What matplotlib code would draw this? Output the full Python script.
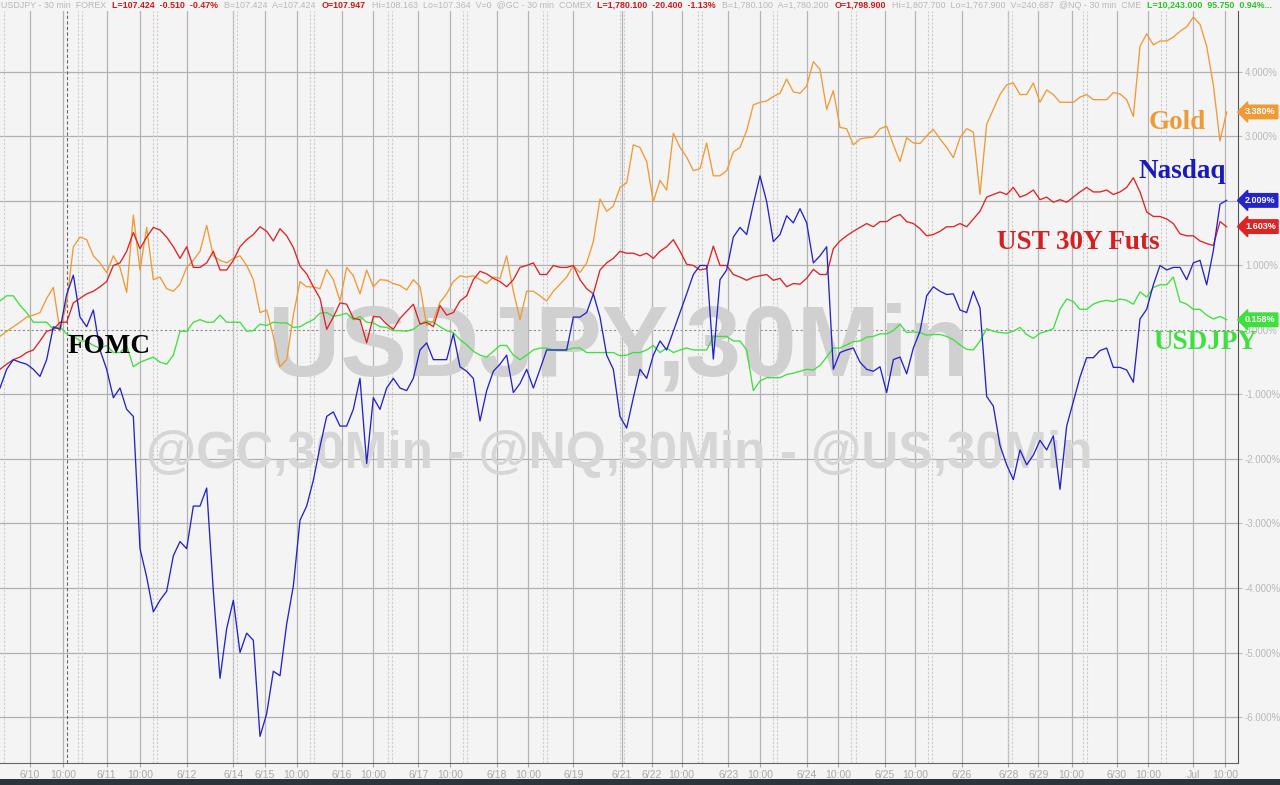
import numpy as np
import matplotlib
matplotlib.use('Agg')
import matplotlib.pyplot as plt
from matplotlib.patches import Rectangle

# % change since start, one point every 4 bars (30 min bars -> 2 hours)
gold = [-0.10, -0.02, 0.05, 0.12, 0.20, 0.23, 0.27, 0.49, 0.66, -0.02, 0.42, 1.29, 1.44, 1.40, 1.15, 1.04, 0.89, 1.15, 0.97, 0.58,
        1.78, 0.93, 1.59, 0.78, 0.82, 0.64, 0.60, 0.71, 0.97, 1.08, 1.22, 1.62, 1.15, 1.08, 1.04, 1.11, 1.15, 1.00,
        0.78, 0.27, 0.31, -0.10, -0.57, -0.46, 0.23, 0.75, 0.67, 0.67, 0.64, 0.94, 0.78, 0.45, 0.97, 0.84, 0.56, 0.93, 0.67, 0.78,
        0.77, 0.72, 0.69, 0.62, 0.78, 0.67, 0.07, 0.14, 0.43, 0.56, 0.75, 0.84, 0.82, 0.84, 0.78, 0.72, 0.82,
        0.80, 1.15, 0.60, 0.16, 0.60, 0.60, 0.53, 0.45, 0.60, 0.71, 0.82, 1.00, 0.89, 1.04, 1.37, 2.03, 1.84, 1.92, 2.21, 2.28,
        2.87, 2.83, 2.61, 1.99, 2.32, 2.17, 3.05, 2.83, 2.68, 2.47, 2.50, 2.90, 2.39, 2.39, 2.47, 2.76, 2.83,
        3.09, 3.49, 3.53, 3.55, 3.62, 3.67, 3.89, 3.69, 3.67, 3.78, 4.16, 4.04, 3.42, 3.71, 3.14, 3.12, 2.87, 2.96, 2.98, 2.99,
        3.12, 3.16, 2.87, 2.61, 2.98, 2.90, 2.89, 3.01, 3.11, 2.96, 2.83, 2.67, 2.98, 3.12, 3.07, 2.10,
        3.19, 3.42, 3.65, 3.80, 3.83, 3.65, 3.65, 3.83, 3.53, 3.72, 3.65, 3.53, 3.53, 3.53, 3.61, 3.65, 3.57, 3.57, 3.57, 3.68,
        3.66, 3.57, 3.31, 4.40, 4.59, 4.42, 4.48, 4.48, 4.54, 4.63, 4.70, 4.85, 4.74, 4.40, 3.80, 2.93, 3.38]

nasdaq = [-0.90, -0.61, -0.46, -0.50, -0.53, -0.61, -0.72, -0.46, 0.05, 0.01, 0.55, 0.85, 0.20, 0.05, 0.31, -0.31, -0.61, -1.05, -0.90, -1.23,
          -1.34, -3.39, -3.83, -4.37, -4.19, -4.05, -3.50, -3.28, -3.39, -2.73, -2.73, -2.45, -4.05, -5.40, -4.63, -4.19, -5.00, -4.70,
          -4.81, -6.30, -5.95, -5.29, -5.36, -4.56, -3.97, -2.95, -2.73, -2.33, -1.81, -1.34, -1.27, -1.49, -1.49, -1.23, -0.75, -2.07, -1.05, -1.23,
          -0.90, -0.75, -0.90, -0.94, -0.75, -0.31, -0.20, -0.46, -0.46, -0.46, -0.06, -0.57, -0.64, -0.75, -1.41, -0.94, -0.64,
          -0.53, -0.39, -0.97, -0.83, -0.61, -0.90, -0.61, -0.31, -0.31, -0.31, -0.31, 0.20, 0.20, 0.27, 0.56, 0.20, -0.39, -0.61, -1.34, -1.52,
          -1.05, -0.61, -0.75, -0.39, -0.17, -0.31, -0.02, 0.27, 0.56, 0.86, 1.00, 1.00, -0.45, 0.78, 0.93, 1.44, 1.59,
          1.48, 1.95, 2.39, 1.99, 1.37, 1.48, 1.77, 1.66, 1.88, 1.66, 1.04, 1.15, 1.29, -0.61, -0.35, -0.31, -0.28, -0.50, -0.61, -0.64,
          -0.57, -0.97, -0.46, -0.42, -0.68, -0.28, -0.02, 0.53, 0.67, 0.60, 0.55, 0.56, 0.31, 0.27, 0.60, 0.34,
          -1.03, -1.18, -1.79, -2.09, -2.32, -1.86, -2.09, -1.94, -1.71, -1.86, -1.64, -2.47, -1.49, -1.11, -0.73, -0.43, -0.43, -0.32, -0.28, -0.58,
          -0.58, -0.62, -0.81, 0.17, 0.32, 0.70, 1.00, 0.93, 0.97, 0.97, 0.78, 1.04, 1.08, 0.70, 1.23, 1.95, 2.01]

ust30 = [-0.61, -0.53, -0.46, -0.42, -0.35, -0.31, -0.17, -0.02, 0.01, 0.12, 0.12, 0.42, 0.49, 0.56, 0.60, 0.67, 0.75, 1.00, 1.04, 1.22,
         1.51, 1.26, 1.44, 1.59, 1.55, 1.44, 1.29, 1.11, 1.29, 0.97, 0.97, 1.04, 1.22, 0.93, 0.93, 1.08, 1.29, 1.40,
         1.48, 1.60, 1.53, 1.38, 1.57, 1.46, 1.28, 0.99, 0.87, 0.67, 0.49, 0.01, 0.20, 0.42, 0.40, 0.18, 0.16, -0.20, 0.21, 0.20,
         0.09, 0.01, 0.18, 0.29, 0.40, 0.09, 0.12, 0.05, 0.38, 0.23, 0.27, 0.45, 0.53, 0.78, 0.91, 0.87, 0.80,
         0.75, 0.67, 0.78, 0.97, 1.00, 1.04, 0.86, 0.86, 1.00, 0.97, 0.97, 1.00, 0.78, 0.64, 0.56, 0.93, 1.04, 1.11, 1.22, 1.19,
         1.19, 1.15, 1.19, 1.11, 1.22, 1.29, 1.40, 1.22, 1.02, 1.00, 0.93, 0.95, 1.30, 1.00, 1.00, 0.86, 0.82,
         0.77, 0.82, 0.84, 0.86, 0.77, 0.80, 0.67, 0.72, 0.71, 0.80, 0.94, 0.86, 0.86, 1.26, 1.38, 1.46, 1.53, 1.59, 1.65, 1.60,
         1.68, 1.68, 1.75, 1.79, 1.68, 1.65, 1.57, 1.46, 1.48, 1.53, 1.60, 1.60, 1.65, 1.60, 1.72, 1.84,
         2.06, 2.10, 2.14, 2.10, 2.21, 2.06, 2.10, 2.17, 2.02, 2.06, 1.98, 2.02, 1.98, 2.06, 2.14, 2.21, 2.14, 2.14, 2.17, 2.10,
         2.14, 2.21, 2.36, 2.14, 1.83, 1.76, 1.76, 1.72, 1.65, 1.49, 1.46, 1.46, 1.38, 1.34, 1.31, 1.68, 1.60]

usdjpy = [0.45, 0.53, 0.53, 0.38, 0.27, 0.12, 0.12, 0.12, 0.01, 0.05, -0.06, -0.10, -0.17, -0.17, -0.24, -0.28, -0.24, -0.35, -0.35, -0.24,
          -0.57, -0.50, -0.46, -0.42, -0.50, -0.53, -0.39, -0.02, -0.02, 0.12, 0.16, 0.12, 0.12, 0.23, 0.12, 0.12, 0.12, -0.02,
          -0.01, 0.09, 0.07, 0.12, 0.11, 0.11, 0.04, 0.05, 0.11, 0.16, 0.26, 0.27, 0.21, 0.23, 0.26, 0.16, 0.21, 0.12, 0.11, 0.05,
          0.04, -0.01, -0.01, -0.02, 0.01, 0.09, 0.14, 0.12, 0.05, -0.01, -0.04, -0.15, -0.23, -0.33, -0.39, -0.42, -0.33,
          -0.24, -0.24, -0.39, -0.46, -0.39, -0.31, -0.28, -0.28, -0.31, -0.31, -0.31, -0.28, -0.28, -0.35, -0.35, -0.35, -0.35, -0.35, -0.40, -0.39,
          -0.35, -0.35, -0.31, -0.24, -0.35, -0.28, -0.35, -0.31, -0.28, -0.31, -0.31, -0.31, -0.10, -0.10, -0.10, -0.17, -0.17,
          -0.31, -0.94, -0.79, -0.74, -0.74, -0.74, -0.69, -0.67, -0.64, -0.61, -0.62, -0.55, -0.42, -0.28, -0.28, -0.23, -0.18, -0.17, -0.11, -0.10,
          -0.06, -0.06, -0.01, 0.09, -0.04, -0.03, -0.04, -0.08, -0.07, -0.07, -0.10, -0.15, -0.23, -0.30, -0.31, -0.17,
          0.02, -0.02, -0.04, -0.05, -0.02, 0.04, -0.07, -0.13, -0.05, -0.02, 0.02, 0.32, 0.48, 0.44, 0.32, 0.32, 0.40, 0.44, 0.46, 0.44,
          0.48, 0.46, 0.40, 0.59, 0.51, 0.66, 0.70, 0.70, 0.82, 0.44, 0.40, 0.32, 0.32, 0.23, 0.17, 0.21, 0.16]

last_values = [3.380, 2.009, 1.603, 0.158]

# x axis is bar index (30 min bars, no weekend gaps)
tick_bars = [18, 38, 64, 84, 112, 140, 159, 178, 205, 224, 251, 270, 298, 317, 344, 373,
             391, 409, 437, 456, 484, 503, 531, 549, 577, 605, 623, 643, 670, 689, 716, 735]
tick_labels = ['6/10', '10:00', '6/11', '10:00', '6/12', '6/14', '6/15', '10:00', '6/16', '10:00', '6/17', '10:00',
               '6/18', '10:00', '6/19', '6/21', '6/22', '10:00', '6/23', '10:00', '6/24', '10:00', '6/25', '10:00',
               '6/26', '6/28', '6/29', '10:00', '6/30', '10:00', 'Jul', '10:00']
session_bars = [1, 48, 93, 141, 187, 234, 279, 327, 373, 420, 465, 512, 558, 606, 651, 698]
fomc_bar = 40

C_GOLD = '#ef9a35'
C_NDQ = '#2424c8'
C_UST = '#dc2424'
C_JPY = '#3ee03e'
BG = '#f4f4f4'

fig = plt.figure(figsize=(12.8, 7.85), dpi=100, facecolor=BG)
ax = fig.add_axes([0, 1 - 763 / 785, 1238 / 1280, (763 - 11) / 785])
ax.set_facecolor(BG)

x = np.arange(len(gold)) * 4
ax.set_xlim(0, 742.8)
ax.set_ylim(-6.713, 4.945)

# grid
for yv in range(-6, 5):
    if yv == 0:
        ax.axhline(0, color='#8c8c8c', lw=0.8, ls=(0, (2, 2)), zorder=1)
    else:
        ax.axhline(yv, color='#b0b0b0', lw=0.9, zorder=1)
for xb in tick_bars:
    ax.axvline(xb, color='#b4b4b4', lw=0.9, zorder=1)
for xb in session_bars:
    for off in (-1.3, 1.3):
        ax.axvline(xb + off, color='#cccccc', lw=0.8, ls=(0, (2, 1.5)), zorder=1)
ax.axvline(fomc_bar, color='#666666', lw=0.8, ls=(0, (3, 2)), zorder=2)

# watermarks
ax.text(0.5, (330 - 350) / 64.5, 'USDJPY,30Min', transform=ax.get_yaxis_transform(),
        ha='center', va='center', fontsize=72, fontweight='bold', family='Liberation Sans',
        color='#d0d0d0', zorder=1.5)
ax.text(0.5, (330 - 455) / 64.5, '@GC,30Min - @NQ,30Min - @US,30Min', transform=ax.get_yaxis_transform(),
        ha='center', va='center', fontsize=37, fontweight='bold', family='Liberation Sans',
        color='#d6d6d6', zorder=1.5)

ax.plot(x, usdjpy, color=C_JPY, lw=0.95, zorder=3)
ax.plot(x, gold, color=C_GOLD, lw=0.95, zorder=3)
ax.plot(x, ust30, color=C_UST, lw=0.95, zorder=3)
ax.plot(x, nasdaq, color=C_NDQ, lw=0.95, zorder=4)

# labels on the chart
serif = dict(family='Liberation Serif', fontweight='bold', fontsize=19.5, va='center', ha='left', zorder=5)
ax.text(40.8, -0.26, 'FOMC', color='black', **serif)
ax.text(689, 3.22, 'Gold', color=C_GOLD, **serif)
ax.text(683, 2.45, 'Nasdaq', color='#1a1ab8', **serif)
ax.text(598, 1.36, 'UST 30Y Futs', color='#d42020', **serif)
ax.text(692, -0.19, 'USDJPY', color=C_JPY, **serif)

# axes styling
for s in ['top', 'left']:
    ax.spines[s].set_visible(False)
ax.spines['right'].set_color('#555555')
ax.spines['bottom'].set_color('#666666')
ax.yaxis.tick_right()
ax.set_yticks(range(-6, 5))
ax.set_yticklabels([f'{v:.3f}%' for v in range(-6, 5)])
ax.tick_params(axis='y', colors='#b8b8b8', labelsize=7, length=3, pad=2)
ax.set_xticks(tick_bars)
ax.set_xticklabels(tick_labels)
ax.tick_params(axis='x', colors='#a8a8a8', labelsize=7.5, length=3, pad=2)
for lab in ax.get_xticklabels() + ax.get_yticklabels():
    lab.set_family('Liberation Sans')

# last value boxes
for val, col in zip(last_values, [C_GOLD, C_NDQ, C_UST, C_JPY]):
    ax.annotate(f'{val:.3f}%', xy=(1, val), xycoords=('axes fraction', 'data'),
                xytext=(5, 0), textcoords='offset points', va='center', ha='left',
                color='white', fontsize=6.5, fontweight='bold', family='Liberation Sans',
                bbox=dict(boxstyle='larrow,pad=0.25', fc=col, ec=col), zorder=6, annotation_clip=False)

# header line, each piece placed right after the previous one
header = [
    ('USDJPY - 30 min  FOREX', '#b8b8b8', 'normal'),
    ('L=107.424  -0.510  -0.47%', '#d01818', 'bold'),
    ('B=107.424  A=107.424', '#b8b8b8', 'normal'),
    ('O=107.947', '#d01818', 'bold'),
    ('Hi=108.163  Lo=107.364  V=0  @GC - 30 min  COMEX', '#b8b8b8', 'normal'),
    ('L=1,780.100  -20.400  -1.13%', '#d01818', 'bold'),
    ('B=1,780.100  A=1,780.200', '#b8b8b8', 'normal'),
    ('O=1,798.900', '#d01818', 'bold'),
    ('Hi=1,807.700  Lo=1,767.900  V=240,687  @NQ - 30 min  CME', '#b8b8b8', 'normal'),
    ('L=10,243.000  95.750  0.94%...', '#30c030', 'bold'),
]
renderer = fig.canvas.get_renderer()
xpos = 1
for txt, col, wt in header:
    t = fig.text(xpos / 1280, 1 - 5 / 785, txt, color=col, fontweight=wt, fontsize=6.4,
                 family='Liberation Sans', ha='left', va='center')
    bb = t.get_window_extent(renderer)
    xpos = bb.x1 + 6

# dark strip along the bottom edge
fig.patches.append(Rectangle((0, 0), 1, 6 / 785, transform=fig.transFigure, fc='#2c353c', ec='none'))

fig.savefig('out.png', dpi=100, facecolor=BG)
